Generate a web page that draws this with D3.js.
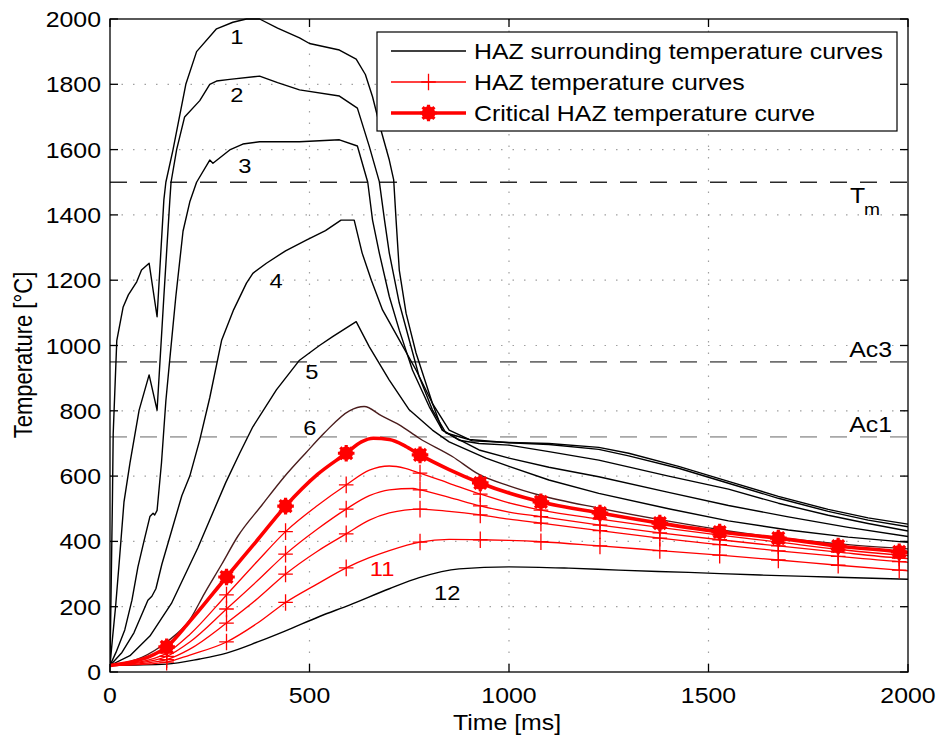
<!DOCTYPE html>
<html><head><meta charset="utf-8">
<script src="https://cdn.jsdelivr.net/npm/d3@7"></script>
<style>body{margin:0;background:#fff}svg{display:block}text{font-family:"Liberation Sans",Arial,sans-serif;fill:#000}</style>
</head><body>
<script>
// ---------- data (time [ms], temperature [°C]) ----------
const curve1 = [[0,20],[6,520],[8,730],[17,1015],[33,1118],[46,1155],[67,1195],[79,1231],[98,1252],[118,1088],[135,1446],[140,1500],[158,1600],[190,1800],[217,1900],[267,1970],[308,1990],[342,2000],[375,2000],[420,1972],[475,1942],[500,1925],[575,1905],[617,1877],[640,1830],[658,1762],[679,1660],[700,1568],[711,1507],[717,1384],[725,1231],[742,1099],[767,977],[808,823],[850,741],[908,708],[1000,703],[1100,700],[1225,688],[1300,670],[1425,630],[1550,584],[1675,538],[1800,498],[1900,472],[2000,453]];
const curve2 = [[0,20],[6,100],[14,200],[24,350],[35,520],[50,640],[73,802],[98,910],[118,802],[135,1150],[150,1446],[153,1500],[167,1600],[187,1700],[225,1750],[250,1800],[267,1810],[300,1815],[375,1825],[420,1805],[475,1783],[575,1764],[620,1727],[650,1609],[675,1502],[688,1384],[700,1283],[725,1130],[750,1017],[775,904],[808,803],[842,732],[900,712],[1000,702],[1100,697],[1225,682],[1300,662],[1425,624],[1550,578],[1675,532],[1800,492],[1900,465],[2000,445]];
const curve3 = [[0,20],[15,60],[37,129],[55,220],[70,322],[85,400],[100,476],[108,486],[112,481],[118,495],[129,640],[140,830],[150,960],[165,1150],[183,1350],[200,1440],[217,1500],[250,1568],[258,1558],[300,1599],[333,1617],[375,1624],[475,1624],[575,1630],[620,1611],[646,1500],[658,1384],[675,1283],[700,1150],[725,1047],[758,925],[800,813],[833,741],[875,710],[925,700],[1000,695],[1100,675],[1225,649],[1400,600],[1550,560],[1675,517],[1800,480],[1900,455],[2000,432]];
const curve4 = [[0,20],[30,60],[60,120],[95,220],[105,232],[115,255],[130,330],[155,435],[180,540],[200,600],[225,711],[250,840],[280,1017],[310,1110],[342,1191],[358,1221],[392,1252],[440,1290],[492,1323],[540,1352],[579,1384],[612,1384],[632,1283],[655,1200],[683,1109],[725,1017],[767,925],[808,823],[833,741],[870,715],[925,680],[1000,655],[1100,627],[1225,598],[1400,550],[1550,510],[1700,475],[1850,443],[2000,415]];
const curve5 = [[0,20],[50,50],[100,110],[154,210],[220,380],[290,580],[325,670],[358,751],[417,864],[475,955],[525,1000],[558,1027],[617,1073],[650,996],[700,894],[750,803],[808,741],[850,705],[942,655],[1000,630],[1100,588],[1225,547],[1400,500],[1550,463],[1700,435],[1850,413],[2000,397]];
const curve6 = [[0,20],[80,45],[142,92],[200,160],[237,241],[280,330],[320,415],[380,510],[437,598],[490,670],[537,732],[600,800],[637,813],[680,785],[725,757],[775,716],[858,660],[925,605],[1000,570],[1075,542],[1225,502],[1400,462],[1550,432],[1700,408],[1850,390],[2000,377]];
const curveCrit = [[0,20],[50,30],[100,48],[142,77],[200,155],[292,291],[370,405],[440,508],[520,605],[592,670],[630,705],[660,716],[700,712],[740,692],[777,665],[850,620],[928,579],[1000,548],[1080,521],[1228,487],[1378,456],[1528,429],[1675,410],[1825,386],[1978,368],[2000,365]];
const curve8 = [[0,20],[60,28],[100,38],[142,58],[200,115],[292,236],[370,340],[440,430],[520,510],[592,573],[650,618],[700,631],[740,624],[777,609],[850,578],[928,545],[1000,518],[1080,496],[1228,468],[1378,443],[1528,419],[1675,398],[1825,376],[1978,358],[2000,356]];
const curve9 = [[0,20],[60,26],[100,33],[142,48],[200,92],[292,193],[370,280],[440,361],[520,438],[592,499],[650,540],[700,558],[760,562],[777,558],[850,535],[928,509],[1000,490],[1080,476],[1228,450],[1378,426],[1528,405],[1675,386],[1825,367],[1978,349],[2000,347]];
const curve10 = [[0,20],[60,24],[100,29],[142,38],[200,70],[292,150],[370,225],[440,300],[520,370],[592,423],[650,465],[700,487],[777,499],[850,492],[928,481],[1000,468],[1080,456],[1228,433],[1378,410],[1528,390],[1675,371],[1825,354],[1978,338],[2000,336]];
const curve11 = [[0,20],[60,22],[100,25],[142,30],[200,52],[292,92],[370,150],[440,213],[520,270],[592,319],[650,350],[700,372],[777,398],[850,406],[928,405],[1000,403],[1080,399],[1228,386],[1378,372],[1528,358],[1675,343],[1825,327],[1978,312],[2000,310]];
const curve12 = [[0,20],[142,24],[225,40],[292,58],[370,92],[440,126],[525,170],[600,205],[700,255],[775,289],[875,316],[1000,322],[1150,318],[1275,312],[1450,305],[1630,297],[1800,291],[2000,284]];
const markerTimes = [142,292,440,592,777,928,1080,1228,1378,1528,1675,1825,1978];
const xTicks = [0,500,1000,1500,2000];
const yTicks = [0,200,400,600,800,1000,1200,1400,1600,1800,2000];
const refLines = [{v:1500,name:"Tm"},{v:950,name:"Ac3"},{v:720,name:"Ac1"}];
const curveLabels = [{t:318,T:1945,s:"1"},{t:318,T:1770,s:"2"},{t:338,T:1550,s:"3"},{t:416,T:1198,s:"4"},{t:506,T:919,s:"5"},{t:501,T:750,s:"6"},{t:682,T:318,s:"11",red:true},{t:845,T:245,s:"12"}];
const legendItems = ["HAZ surrounding temperature curves","HAZ temperature curves","Critical HAZ temperature curve"];

// ---------- drawing ----------
const W=939,H=743, L=110,R=908,T=19,B=672, SX=1.13;
const svg=d3.select("body").append("svg").attr("width",W).attr("height",H);
svg.append("rect").attr("width",W).attr("height",H).attr("fill","#fff");
const x=d3.scaleLinear().domain([0,2000]).range([L,R]);
const y=d3.scaleLinear().domain([0,2000]).range([B,T]);

function txt(px,py,s,size,anchor,extra){
  return svg.append("text").attr("transform",`translate(${px},${py}) scale(${SX},1)`+(extra||""))
    .attr("font-size",size).attr("text-anchor",anchor||"start").text(s);
}

// grid
const grid=svg.append("g").attr("stroke","#a0a0a0").attr("stroke-width",1.2).attr("stroke-dasharray","1.5,10");
xTicks.filter(v=>v>0&&v<2000).forEach(v=>grid.append("line").attr("x1",x(v)).attr("x2",x(v)).attr("y1",T).attr("y2",B));
yTicks.filter(v=>v>0&&v<2000).forEach(v=>grid.append("line").attr("x1",L).attr("x2",R).attr("y1",y(v)).attr("y2",y(v)));

// reference lines
const refColor={Tm:"#2a2a2a",Ac3:"#707070",Ac1:"#a8a8a8"};
refLines.forEach(r=>svg.append("line").attr("x1",L).attr("x2",R).attr("y1",y(r.v)).attr("y2",y(r.v))
  .attr("stroke",refColor[r.name]).attr("stroke-width",1.6).attr("stroke-dasharray","17,13"));
txt(850,y(1500)+21,"T",22,"start");
txt(864,y(1500)+33,"m",17,"start");
txt(892,y(950)-5,"Ac3",22,"end");
txt(892,y(720)-5,"Ac1",22,"end");

// curves
svg.append("clipPath").attr("id","clip").append("rect").attr("x",L).attr("y",T-1).attr("width",R-L).attr("height",B-T+1);
const plot=svg.append("g").attr("clip-path","url(#clip)");
const lineLin=d3.line().x(d=>x(d[0])).y(d=>y(d[1]));
const lineSm=d3.line().x(d=>x(d[0])).y(d=>y(d[1])).curve(d3.curveMonotoneX);
[curve1,curve2,curve3,curve4,curve5].forEach(c=>plot.append("path").attr("d",lineLin(c)).attr("fill","none").attr("stroke","#000").attr("stroke-width",1.4).attr("stroke-linejoin","round"));
plot.append("path").attr("d",lineSm(curve12)).attr("fill","none").attr("stroke","#000").attr("stroke-width",1.4);
plot.append("path").attr("d",lineSm(curve6)).attr("fill","none").attr("stroke","#4a1c1c").attr("stroke-width",1.4);
const thin=[curve8,curve9,curve10,curve11];
thin.forEach(c=>plot.append("path").attr("d",lineSm(c)).attr("fill","none").attr("stroke","#ff0000").attr("stroke-width",1.3));
plot.append("path").attr("d",lineSm(curveCrit)).attr("fill","none").attr("stroke","#ff0000").attr("stroke-width",3.6);

// markers
function plus(g,px,py){g.append("path").attr("d",`M${px-7.3},${py}H${px+7.3}M${px},${py-8.3}V${py+8.3}`).attr("stroke","#ff0000").attr("stroke-width",1.3).attr("fill","none");}
function star(g,px,py){
  g.append("circle").attr("cx",px).attr("cy",py).attr("r",6.8).attr("fill","#ff0000");
  g.append("path").attr("d",`M${px-8.3},${py}H${px+8.3}M${px},${py-8.3}V${py+8.3}M${px-5.9},${py-5.9}L${px+5.9},${py+5.9}M${px-5.9},${py+5.9}L${px+5.9},${py-5.9}`)
   .attr("stroke","#ff0000").attr("stroke-width",3.2);
}
const mk=svg.append("g");
thin.forEach(c=>markerTimes.forEach(t=>{const p=c.find(d=>d[0]===t); if(p) plus(mk,x(p[0]),y(p[1]));}));
markerTimes.forEach(t=>{const p=curveCrit.find(d=>d[0]===t); if(p) star(mk,x(p[0]),y(p[1]));});

// curve labels
curveLabels.forEach(l=>txt(x(l.t),y(l.T)+7.5,l.s,21,"middle").style("fill",l.red?"#ff0000":"#000"));

// frame and ticks
const ax=svg.append("g").attr("stroke","#000").attr("stroke-width",1.3);
ax.append("rect").attr("x",L).attr("y",T).attr("width",R-L).attr("height",B-T).attr("fill","none");
xTicks.forEach(v=>{ax.append("line").attr("x1",x(v)).attr("x2",x(v)).attr("y1",B).attr("y2",B-8);ax.append("line").attr("x1",x(v)).attr("x2",x(v)).attr("y1",T).attr("y2",T+8);});
yTicks.forEach(v=>{ax.append("line").attr("x1",L).attr("x2",L+8).attr("y1",y(v)).attr("y2",y(v));ax.append("line").attr("x1",R).attr("x2",R-8).attr("y1",y(v)).attr("y2",y(v));});
xTicks.forEach(v=>txt(x(v),703,String(v),22,"middle"));
yTicks.forEach(v=>txt(101,y(v)+8,String(v),22,"end"));
txt(507,730,"Time [ms]",22,"middle");
svg.append("text").attr("transform",`translate(32,355) scale(${SX},1) rotate(-90)`).attr("font-size",22).attr("text-anchor","middle").text("Temperature [°C]");

// legend
const lg=svg.append("g");
lg.append("rect").attr("x",377).attr("y",32).attr("width",520).attr("height",99).attr("fill","#fff").attr("stroke","#000").attr("stroke-width",1.2);
const rows=[51,82,113];
lg.append("line").attr("x1",391).attr("x2",466).attr("y1",rows[0]).attr("y2",rows[0]).attr("stroke","#000").attr("stroke-width",1.3);
lg.append("line").attr("x1",391).attr("x2",466).attr("y1",rows[1]).attr("y2",rows[1]).attr("stroke","#ff0000").attr("stroke-width",1.3);
plus(lg,428.5,rows[1]);
lg.append("line").attr("x1",391).attr("x2",466).attr("y1",rows[2]).attr("y2",rows[2]).attr("stroke","#ff0000").attr("stroke-width",3.6);
star(lg,428.5,rows[2]);
legendItems.forEach((s,i)=>txt(474,rows[i]+8,s,22,"start"));
</script>
</body></html>
